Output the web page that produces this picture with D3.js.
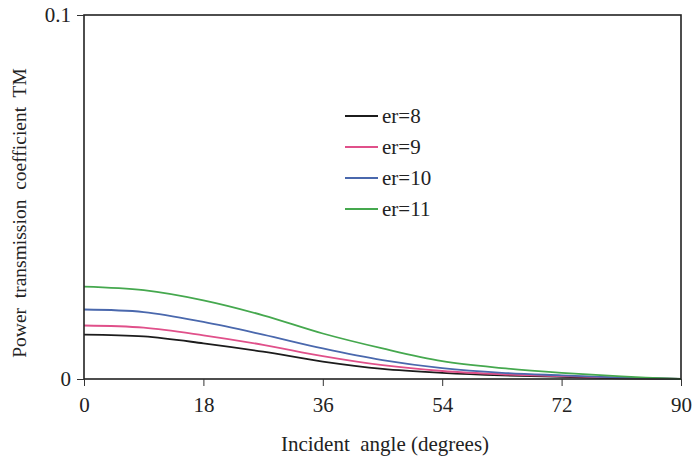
<!DOCTYPE html>
<html>
<head>
<meta charset="utf-8">
<script src="https://cdn.jsdelivr.net/npm/d3@7"></script>
<style>
  html, body { margin: 0; padding: 0; background: #fff; }
  svg { display: block; }
  text { font-family: "Liberation Serif", "DejaVu Serif", serif; }
</style>
</head>
<body>
<svg id="chart" width="697" height="462"></svg>
<script>
// Data
const angles = [0, 9, 18, 27, 36, 45, 54, 63, 72, 81, 90];
const er8  = [0.0122, 0.0117, 0.0098, 0.0075, 0.0048, 0.0028, 0.0017, 0.0010, 0.0006, 0.0002, 0];
const er9  = [0.0147, 0.0141, 0.0120, 0.0094, 0.0063, 0.0038, 0.0022, 0.0013, 0.0008, 0.0003, 0];
const er10 = [0.0191, 0.0184, 0.0157, 0.0122, 0.0084, 0.0052, 0.0030, 0.0017, 0.0010, 0.0004, 0];
const er11 = [0.0254, 0.0244, 0.0216, 0.0175, 0.0125, 0.0084, 0.0049, 0.0030, 0.0017, 0.0007, 0];
const seriesNames = ["er=8", "er=9", "er=10", "er=11"];
const seriesColors = ["#1c1c1c", "#e0508a", "#4a68ad", "#45a84e"];
const xTicks = [0, 18, 36, 54, 72, 90];
const yTicks = [0, 0.1];

(function () {
const series = [er8, er9, er10, er11].map((vals, i) => ({
  name: seriesNames[i], color: seriesColors[i],
  points: angles.map((a, j) => [a, vals[j]])
}));

const svg = d3.select("#chart");
const mL = 84, mR = 681, mT = 15, mB = 379;
const x = d3.scaleLinear().domain([0, 90]).range([mL, mR]);
const y = d3.scaleLinear().domain([0, 0.1]).range([mB, mT]);
const fs = 21;

// curves
const line = d3.line().x(d => x(d[0])).y(d => y(d[1])).curve(d3.curveCatmullRom.alpha(0.5));
svg.append("g").selectAll("path").data(series).join("path")
  .attr("d", d => line(d.points))
  .attr("fill", "none")
  .attr("stroke", d => d.color)
  .attr("stroke-width", 1.8);

// frame
svg.append("rect")
  .attr("x", mL).attr("y", mT)
  .attr("width", mR - mL).attr("height", mB - mT)
  .attr("fill", "none").attr("stroke", "#222").attr("stroke-width", 1.6);

// axes
const xAxis = svg.append("g").attr("transform", `translate(0,${mB})`)
  .call(d3.axisBottom(x).tickValues(xTicks).tickSize(7).tickPadding(11).tickFormat(d3.format("d")));
const yAxis = svg.append("g").attr("transform", `translate(${mL},0)`)
  .call(d3.axisLeft(y).tickValues(yTicks).tickSize(7).tickPadding(6).tickFormat(d => d === 0 ? "0" : "0.1"));
[xAxis, yAxis].forEach(g => {
  g.select(".domain").remove();
  g.selectAll("line").attr("stroke", "#333").attr("stroke-width", 1);
  g.selectAll("text").attr("font-family", null).attr("font-size", fs).attr("fill", "#222");
});

// axis titles
svg.append("text")
  .attr("x", 385).attr("y", 451)
  .attr("text-anchor", "middle")
  .attr("font-size", fs).attr("fill", "#222")
  .attr("xml:space", "preserve")
  .text("Incident  angle (degrees)");
svg.append("text")
  .attr("transform", `translate(26,213) rotate(-90)`)
  .attr("text-anchor", "middle")
  .attr("font-size", 19.5).attr("fill", "#222")
  .attr("xml:space", "preserve")
  .text("Power  transmission  coefficient  TM");

// legend
const legendY = [116, 147, 178, 209];
const lg = svg.append("g").selectAll("g").data(series).join("g")
  .attr("transform", (d, i) => `translate(345,${legendY[i]})`);
lg.append("line").attr("x1", 0).attr("x2", 33).attr("y1", 0).attr("y2", 0)
  .attr("stroke", d => d.color).attr("stroke-width", 1.8);
lg.append("text").attr("x", 37).attr("y", 7)
  .attr("font-size", fs).attr("fill", "#222")
  .text(d => d.name);
})();
</script>
</body>
</html>
